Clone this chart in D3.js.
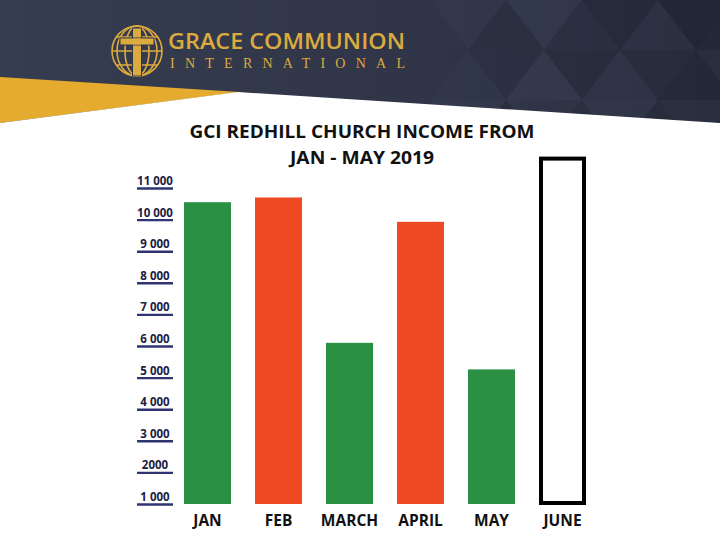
<!DOCTYPE html>
<html><head><meta charset="utf-8">
<script src="https://cdn.jsdelivr.net/npm/d3@7"></script>
<style>html,body{margin:0;padding:0;background:#fff;}svg{display:block;}</style>
</head><body>
<svg id="chart" width="720" height="540"></svg>
<script>
// ---- data ----
const categories = ["JAN", "FEB", "MARCH", "APRIL", "MAY", "JUNE"];
const income = [10550, 10700, 6100, 9930, 5260, null];   // JUNE not yet known
const juneOutline = 11930;                                 // empty placeholder box height
const tickValues = [1000, 2000, 3000, 4000, 5000, 6000, 7000, 8000, 9000, 10000, 11000];
const tickLabels = ["1 000", "2000", "3 000", "4 000", "5 000", "6 000", "7 000", "8 000", "9 000", "10 000", "11 000"];
const titleLines = ["GCI REDHILL CHURCH INCOME FROM", "JAN - MAY 2019"];
// ---- styles ----
const barColors = ["#2a9144", "#ee4a23", "#2a9144", "#ee4a23", "#2a9144", "none"];
const gold = "#dcab3f";

const svg = d3.select("#chart");

// ---- header ----
const hdrGrad = svg.append("defs").append("linearGradient").attr("id", "hg").attr("x1", 0).attr("x2", 1);
hdrGrad.append("stop").attr("offset", 0).attr("stop-color", "#373d50");
hdrGrad.append("stop").attr("offset", 0.6).attr("stop-color", "#2f3447");
hdrGrad.append("stop").attr("offset", 1).attr("stop-color", "#242836");
svg.append("rect").attr("x", 0).attr("y", 0).attr("width", 720).attr("height", 130).attr("fill", "url(#hg)");

// decorative triangle pattern
const triShades = [
  ["#2f3547", "#353b4e", "#2a2f40", "#3a4055", "#2c3143", "#23283a", "#32384b", "#1f2332"],
  ["#343a4e", "#2b3041", "#3b4156", "#282d3d", "#363c50", "#2a2f40", "#242838", "#2e3345"],
  ["#2d3244", "#383e52", "#262b3b", "#33394c", "#2b3041", "#394054", "#2a2f40", "#303649"]
];
const triW = 76, triH = 50, triX0 = 392;
triShades.forEach((row, r) => {
  row.forEach((c, i) => {
    const x = triX0 + i * triW / 2 + (r % 2 ? triW / 2 : 0);
    const up = (i % 2 === 0);
    const y0 = r * triH, y1 = y0 + triH;
    const pts = up ? [[x, y1], [x + triW / 2, y0], [x + triW, y1]]
                   : [[x, y0], [x + triW / 2, y1], [x + triW, y0]];
    svg.append("path").attr("d", d3.line()(pts) + "Z").attr("fill", c).attr("opacity", 0.5);
  });
});

// gold wedge
svg.append("path").attr("d", d3.line()([[0, 77], [240, 92], [0, 123]]) + "Z").attr("fill", "#e5ab2e");
// white body
svg.append("path").attr("d", d3.line()([[0, 123], [238, 92], [720, 123], [720, 540], [0, 540]]) + "Z").attr("fill", "#ffffff");

// logo: globe + cross
const logo = svg.append("g").attr("transform", "translate(137,51)").attr("fill", "none").attr("stroke", gold).attr("stroke-width", 1.6);
logo.append("circle").attr("r", 25);
logo.append("ellipse").attr("rx", 12).attr("ry", 25);
logo.append("ellipse").attr("rx", 20).attr("ry", 25);
logo.append("line").attr("x1", -25).attr("x2", 25).attr("y1", 0).attr("y2", 0);
[-14, 14].forEach(yy => logo.append("line").attr("x1", -Math.sqrt(625 - yy * yy)).attr("x2", Math.sqrt(625 - yy * yy)).attr("y1", yy).attr("y2", yy));
logo.append("rect").attr("x", -4.5).attr("y", -23).attr("width", 9).attr("height", 48).attr("fill", gold).attr("stroke", "#30364a").attr("stroke-width", 1);
logo.append("rect").attr("x", -17).attr("y", -13).attr("width", 34).attr("height", 7).attr("fill", gold).attr("stroke", "#30364a").attr("stroke-width", 1);
logo.append("rect").attr("x", -4).attr("y", -12.5).attr("width", 8).attr("height", 6).attr("fill", gold).attr("stroke", "none");

svg.append("text").attr("x", 168).attr("y", 48.5).text("GRACE COMMUNION")
  .attr("font-family", "Open Sans, sans-serif").attr("font-weight", 600).attr("font-size", 21)
  .attr("fill", gold).attr("textLength", 237).attr("lengthAdjust", "spacingAndGlyphs");
svg.append("text").attr("x", 170).attr("y", 68).text("INTERNATIONAL")
  .attr("font-family", "Liberation Serif, serif").attr("font-size", 14)
  .attr("fill", gold).attr("textLength", 235).attr("lengthAdjust", "spacing");

// ---- title ----
const titleW = [345, 144];
titleLines.forEach((t, i) => {
  svg.append("text").attr("x", 362).attr("y", 138 + i * 25.5).attr("text-anchor", "middle").text(t)
    .attr("font-family", "Open Sans, sans-serif").attr("font-weight", 700).attr("font-size", 18)
    .attr("fill", "#111").attr("textLength", titleW[i]).attr("lengthAdjust", "spacingAndGlyphs");
});

// ---- scales ----
const x = d3.scaleBand().domain(categories).range([172, 598]).paddingInner(0.338).paddingOuter(0.169);
const y = d3.scaleLinear().domain([1000, 11000]).range([504, 188]);

// ---- y axis (underlined labels) ----
const yAxis = svg.append("g").attr("transform", "translate(155,0)")
  .call(d3.axisLeft(y).tickValues(tickValues).tickSize(0).tickFormat((d, i) => tickLabels[i]));
yAxis.select(".domain").remove();
yAxis.selectAll("text").attr("x", 0).attr("dy", 0).attr("y", -3.5).attr("text-anchor", "middle")
  .attr("font-family", "Open Sans, sans-serif").attr("font-weight", 700).attr("font-size", 11.5)
  .attr("fill", "#1b2142");
yAxis.selectAll(".tick").append("line").attr("x1", -18).attr("x2", 18).attr("y1", 0).attr("y2", 0)
  .attr("stroke", "#2d3470").attr("stroke-width", 2.4);

// ---- bars ----
svg.append("g").selectAll("rect").data(categories.filter((c, i) => income[i] !== null)).join("rect")
  .attr("x", d => x(d)).attr("width", x.bandwidth())
  .attr("y", d => y(income[categories.indexOf(d)]))
  .attr("height", d => y(1000) - y(income[categories.indexOf(d)]))
  .attr("fill", d => barColors[categories.indexOf(d)]);

// June placeholder box
svg.append("rect").attr("x", x("JUNE") + 2).attr("width", x.bandwidth() - 4)
  .attr("y", y(juneOutline)).attr("height", y(1000) - y(juneOutline) - 1)
  .attr("fill", "none").attr("stroke", "#000").attr("stroke-width", 4);

// ---- x axis ----
const xAxis = svg.append("g").attr("transform", `translate(0,${y(1000)})`)
  .call(d3.axisBottom(x).tickSize(0));
xAxis.select(".domain").remove();
xAxis.selectAll("text").attr("y", 22).attr("dy", 0)
  .attr("font-family", "Open Sans, sans-serif").attr("font-weight", 700).attr("font-size", 15.5)
  .attr("fill", "#111");
</script>
</body></html>
